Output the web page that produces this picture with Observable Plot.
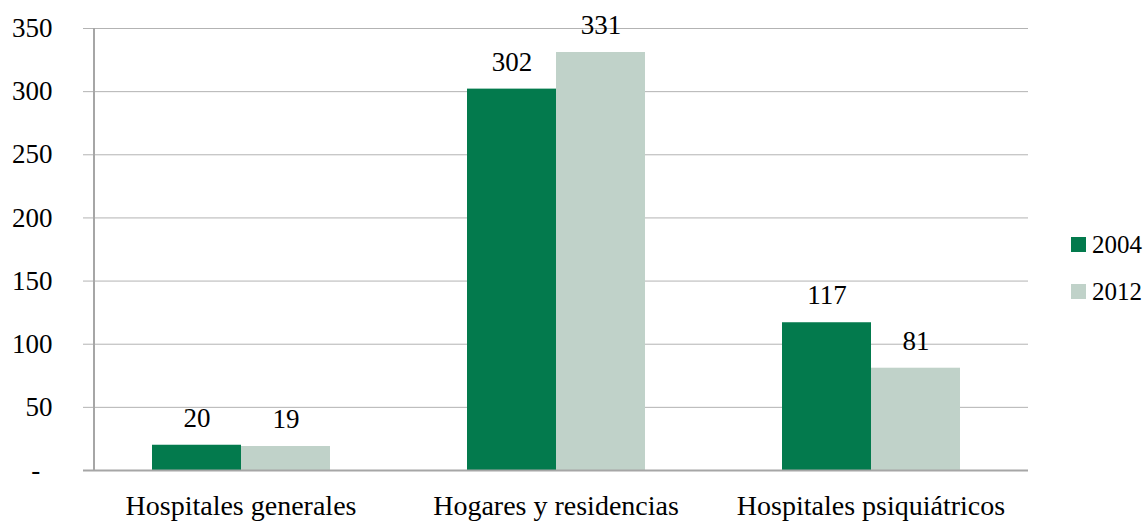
<!DOCTYPE html>
<html><head><meta charset="utf-8">
<script src="https://cdn.jsdelivr.net/npm/d3@7"></script>
<script src="https://cdn.jsdelivr.net/npm/@observablehq/plot@0.6"></script>
<style>
body{margin:0;background:#fff;}
#wrap{position:relative;width:1144px;height:521px;font-family:"Liberation Serif","Times New Roman",Times,"DejaVu Serif",serif;}
#wrap svg text{font-family:"Liberation Serif","Times New Roman",Times,"DejaVu Serif",serif;}
.leg{position:absolute;left:1071px;font-size:25px;line-height:27px;color:#000;display:flex;align-items:flex-end;white-space:nowrap;}
.sw{display:inline-block;width:15px;height:15px;margin-right:6px;margin-bottom:6px;}
</style></head><body><div id="wrap"></div>
<script>
const categories = ["Hospitales generales", "Hogares y residencias", "Hospitales psiquiátricos"];
const years = ["2004", "2012"];
const values2004 = [20, 302, 117];
const values2012 = [19, 331, 81];
const yTicks = [0, 50, 100, 150, 200, 250, 300, 350];
const colors = ["#037a4d", "#c0d2c9"];

const data = categories.flatMap((c, i) => [
  {category: c, year: years[0], value: values2004[i]},
  {category: c, year: years[1], value: values2012[i]}
]);

const chart = Plot.plot({
  width: 1144, height: 521,
  marginTop: 28, marginBottom: 51, marginLeft: 94, marginRight: 115,
  style: {fontFamily: "Liberation Serif, Times New Roman, serif", fontSize: "27px", color: "#000", background: "#fff", overflow: "visible"},
  fx: {domain: categories, range: [82.25, 1028.75], padding: 0, label: null, axis: null},
  x: {domain: years, paddingInner: 0, paddingOuter: 0.753, axis: null},
  y: {domain: [0, 350], axis: null, label: null},
  color: {domain: years, range: colors},
  marks: [
    Plot.ruleY(yTicks.filter(d => d > 0), {stroke: "#b3b3b3", strokeWidth: 1}),
    Plot.barY(data, {fx: "category", x: "year", y: "value", fill: "year"}),
    Plot.ruleY([0], {stroke: "#a6a6a6", strokeWidth: 2}),
    Plot.text(data, {fx: "category", x: "year", y: "value", text: d => String(d.value), dy: -18.5, lineAnchor: "bottom", fontSize: 27, fill: "#000"}),
    Plot.axisY(yTicks, {tickSize: 0, tickPadding: 31, label: null, tickFormat: d => d === 0 ? "-\u00a0\u2009" : String(d), fontSize: 27, fill: "#000"}),
    Plot.axisFx({anchor: "bottom", tickSize: 0, tickPadding: 25, fontSize: 28, label: null, fill: "#000"})
  ]
});

const y = chart.scale("y");
d3.select(chart).append("line")
  .attr("x1", 94).attr("x2", 94)
  .attr("y1", y.apply(0) + 1).attr("y2", y.apply(350))
  .attr("stroke", "#a6a6a6").attr("stroke-width", 2);

const wrap = document.getElementById("wrap");
wrap.appendChild(chart);
const legTops = [231, 278];
years.forEach((yr, i) => {
  const d = document.createElement("div");
  d.className = "leg";
  d.style.top = legTops[i] + "px";
  d.innerHTML = `<span class="sw" style="background:${colors[i]}"></span><span>${yr}</span>`;
  wrap.appendChild(d);
});
</script>
</body></html>
